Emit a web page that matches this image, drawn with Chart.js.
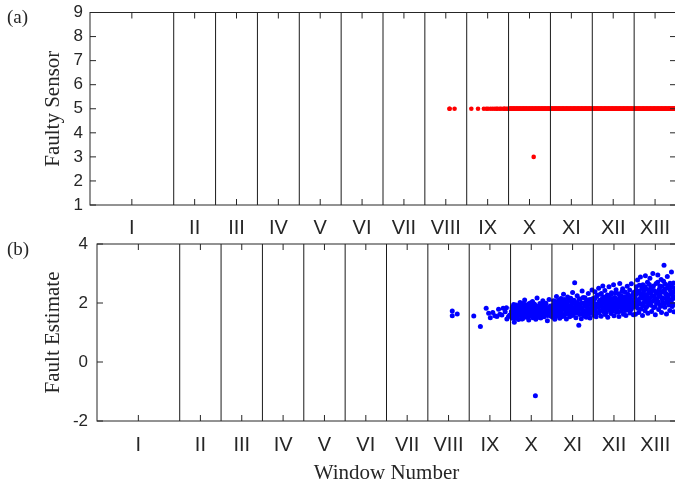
<!DOCTYPE html>
<html>
<head>
<meta charset="utf-8">
<script src="https://cdn.jsdelivr.net/npm/chart.js@4.4.1/dist/chart.umd.min.js"></script>
<style>
  html, body { margin: 0; padding: 0; background: #fff; overflow: hidden; width: 675px; height: 486px; }
  .panel { position: absolute; left: 0; }
  .tag { position: absolute; left: 7px; font: 19px "Liberation Serif", serif; color: #262626; line-height: 1; }
</style>
</head>
<body>
<canvas id="sensorChart" class="panel" width="680" height="240" style="top:0"></canvas>
<canvas id="estimateChart" class="panel" width="680" height="258" style="top:228px"></canvas>
<div class="tag" style="top:7px">(a)</div>
<div class="tag" style="top:239px">(b)</div>
<script>
// window layout: window I spans two units, the rest one unit each
const windowLabels = ['I', 'II', 'III', 'IV', 'V', 'VI', 'VII', 'VIII', 'IX', 'X', 'XI', 'XII', 'XIII'];
const windowCentres = [1, 2.5, 3.5, 4.5, 5.5, 6.5, 7.5, 8.5, 9.5, 10.5, 11.5, 12.5, 13.5];
const windowEdges = [2, 3, 4, 5, 6, 7, 8, 9, 10, 11, 12, 13];

// fault estimates per window, [sample position, estimate]
const estimateVIII = [[8.59, 1.73], [8.59, 1.57], [8.71, 1.63]];
const estimateIX = [
  [9.11, 1.56], [9.27, 1.20], [9.41, 1.82], [9.47, 1.65], [9.51, 1.50], [9.57, 1.68], [9.62, 1.57],
  [9.67, 1.54], [9.71, 1.79], [9.74, 1.62], [9.79, 1.59], [9.82, 1.82], [9.87, 1.70], [9.90, 1.84],
  [9.91, 1.46], [9.95, 1.54], [9.98, 1.59]
];
const estimateX = [
  [10.02, 1.71], [10.04, 1.48], [10.06, 1.88], [10.08, 1.62], [10.09, 1.35], [10.11, 1.77], [10.13, 1.93],
  [10.14, 1.55], [10.16, 1.68], [10.18, 1.82], [10.19, 1.44], [10.21, 1.74], [10.23, 2.02], [10.24, 1.58],
  [10.26, 1.66], [10.28, 1.90], [10.29, 1.47], [10.31, 1.79], [10.33, 1.61], [10.34, 2.10], [10.36, 1.70],
  [10.38, 1.52], [10.39, 1.85], [10.41, 1.64], [10.43, 1.97], [10.44, 1.42], [10.46, 1.75], [10.48, 1.58],
  [10.49, 1.88], [10.51, 1.67], [10.53, 2.05], [10.54, 1.50], [10.56, 1.80], [10.58, 1.63], [10.59, 1.92],
  [10.61, 1.45], [10.63, 1.73], [10.64, 2.17], [10.66, 1.56], [10.68, 1.84], [10.69, 1.68], [10.71, 1.98],
  [10.73, 1.49], [10.74, 1.77], [10.76, 1.60], [10.78, 2.08], [10.79, 1.87], [10.81, 1.53], [10.83, 1.72],
  [10.84, 1.95], [10.86, 1.62], [10.88, 1.83], [10.89, 1.40], [10.91, 1.76], [10.93, 2.12], [10.94, 1.66],
  [10.96, 1.90], [10.98, 1.55], [10.99, 1.80],
  [10.05, 1.77], [10.12, 1.60], [10.20, 1.86], [10.27, 1.54], [10.35, 1.83], [10.42, 1.69], [10.50, 1.95],
  [10.57, 1.51], [10.65, 1.78], [10.72, 1.64], [10.80, 1.96], [10.87, 1.70], [10.95, 1.59],
  [10.015, 1.60], [10.035, 1.83], [10.055, 1.52], [10.075, 1.95], [10.095, 1.66], [10.115, 1.49], [10.135, 1.73],
  [10.155, 1.87], [10.175, 1.57], [10.195, 1.71], [10.215, 1.92], [10.235, 1.63], [10.255, 1.80], [10.275, 1.46],
  [10.295, 1.68], [10.315, 1.99], [10.335, 1.75], [10.355, 1.57], [10.375, 1.90], [10.395, 1.72], [10.415, 1.53],
  [10.435, 1.81], [10.455, 1.62], [10.475, 2.00], [10.495, 1.74], [10.515, 1.55], [10.535, 1.86], [10.555, 1.69],
  [10.575, 1.97], [10.595, 1.76], [10.615, 1.59], [10.635, 1.88], [10.655, 1.70], [10.675, 1.52], [10.695, 1.91],
  [10.715, 1.74], [10.735, 1.63], [10.755, 1.85], [10.775, 1.71], [10.795, 1.56], [10.815, 1.89], [10.835, 1.65],
  [10.855, 1.99], [10.875, 1.77], [10.895, 1.58], [10.915, 1.85], [10.935, 1.68], [10.955, 1.82], [10.975, 1.72],
  [10.995, 1.64]
];
const estimateXI = [
  [11.01, 1.83], [11.02, 1.52], [11.04, 2.08], [11.05, 1.70], [11.07, 1.45], [11.08, 1.95], [11.10, 1.62],
  [11.11, 2.22], [11.13, 1.78], [11.14, 1.56], [11.16, 2.01], [11.17, 1.87], [11.19, 1.48], [11.20, 1.73],
  [11.22, 2.15], [11.23, 1.65], [11.25, 1.92], [11.26, 1.54], [11.28, 2.30], [11.29, 1.80], [11.31, 1.60],
  [11.32, 2.05], [11.34, 1.72], [11.35, 1.46], [11.37, 1.98], [11.38, 2.20], [11.40, 1.67], [11.41, 1.85],
  [11.43, 1.53], [11.44, 2.10], [11.46, 1.76], [11.47, 1.94], [11.49, 1.58], [11.50, 2.36], [11.52, 1.82],
  [11.53, 1.66], [11.55, 2.69], [11.56, 2.02], [11.58, 1.50], [11.59, 1.88], [11.61, 2.25], [11.62, 1.71],
  [11.64, 1.97], [11.65, 1.25], [11.67, 1.61], [11.68, 2.13], [11.70, 1.84], [11.71, 1.47], [11.73, 2.41],
  [11.74, 1.75], [11.76, 2.00], [11.77, 1.57], [11.79, 1.90], [11.80, 2.18], [11.82, 1.68], [11.83, 1.52],
  [11.85, 2.07], [11.86, 1.79], [11.88, 2.32], [11.89, 1.63], [11.91, 1.95], [11.92, 1.49], [11.94, 2.12],
  [11.95, 1.74], [11.97, 2.44], [11.98, 1.86],
  [11.03, 1.76], [11.12, 1.90], [11.21, 1.59], [11.30, 1.93], [11.39, 1.77], [11.48, 2.03], [11.57, 1.73],
  [11.66, 1.81], [11.75, 1.64], [11.84, 1.96], [11.93, 1.69],
  [11.015, 1.68], [11.035, 1.94], [11.055, 1.60], [11.075, 1.82], [11.095, 2.05], [11.115, 1.71], [11.135, 1.97],
  [11.155, 1.63], [11.175, 2.10], [11.195, 1.85], [11.215, 1.69], [11.235, 2.03], [11.255, 1.78], [11.275, 1.58],
  [11.295, 2.12], [11.315, 1.83], [11.335, 1.66], [11.355, 1.95], [11.375, 1.74], [11.395, 2.08], [11.415, 1.62],
  [11.435, 1.89], [11.455, 2.16], [11.475, 1.71], [11.495, 1.98], [11.515, 1.61], [11.535, 2.09], [11.555, 1.80],
  [11.575, 1.92], [11.595, 1.66], [11.615, 2.02], [11.635, 1.78], [11.655, 2.14], [11.675, 1.88], [11.695, 1.64],
  [11.715, 1.99], [11.735, 1.82], [11.755, 2.19], [11.775, 1.72], [11.795, 1.95], [11.815, 1.60], [11.835, 2.06],
  [11.855, 1.86], [11.875, 1.69], [11.895, 2.11], [11.915, 1.80], [11.935, 2.01], [11.955, 1.65], [11.975, 1.93],
  [11.995, 2.15]
];
const estimateXII = [
  [12.01, 2.10], [12.02, 1.58], [12.04, 2.38], [12.05, 1.82], [12.07, 1.53], [12.08, 2.22], [12.10, 1.95],
  [12.11, 1.67], [12.13, 2.50], [12.14, 2.03], [12.16, 1.74], [12.17, 2.30], [12.19, 1.55], [12.20, 1.89],
  [12.22, 2.15], [12.23, 2.58], [12.25, 1.70], [12.26, 1.98], [12.28, 2.42], [12.29, 1.61], [12.31, 2.08],
  [12.32, 1.84], [12.34, 2.27], [12.35, 1.52], [12.37, 1.93], [12.38, 2.55], [12.40, 1.76], [12.41, 2.12],
  [12.43, 1.64], [12.44, 2.35], [12.46, 1.99], [12.47, 1.79], [12.49, 2.62], [12.50, 1.57], [12.52, 2.19],
  [12.53, 1.91], [12.55, 2.45], [12.56, 1.69], [12.58, 2.05], [12.59, 1.86], [12.61, 2.31], [12.62, 1.54],
  [12.64, 2.66], [12.65, 2.01], [12.67, 1.73], [12.68, 2.24], [12.70, 1.94], [12.71, 2.48], [12.73, 1.62],
  [12.74, 2.11], [12.76, 1.81], [12.77, 2.37], [12.79, 1.58], [12.80, 2.03], [12.82, 2.57], [12.83, 1.77],
  [12.85, 2.16], [12.86, 1.92], [12.88, 2.44], [12.89, 1.66], [12.91, 2.07], [12.92, 2.65], [12.94, 1.85],
  [12.95, 2.28], [12.97, 1.60], [12.98, 2.00],
  [12.03, 1.98], [12.12, 1.85], [12.21, 2.04], [12.30, 1.88], [12.39, 2.17], [12.48, 1.97], [12.57, 1.80],
  [12.66, 2.13], [12.75, 1.96], [12.84, 2.06], [12.93, 1.90],
  [12.015, 1.80], [12.035, 2.14], [12.055, 1.71], [12.075, 1.96], [12.095, 2.26], [12.115, 1.88], [12.135, 1.66],
  [12.155, 2.09], [12.175, 1.93], [12.195, 2.32], [12.215, 1.76], [12.235, 2.01], [12.255, 2.20], [12.275, 1.84],
  [12.295, 2.12], [12.315, 1.69], [12.335, 1.97], [12.355, 2.24], [12.375, 1.81], [12.395, 2.06], [12.415, 1.90],
  [12.435, 2.29], [12.455, 1.73], [12.475, 2.14], [12.495, 1.87], [12.515, 2.02], [12.535, 2.34], [12.555, 1.78],
  [12.575, 2.10], [12.595, 1.95], [12.615, 1.70], [12.635, 2.19], [12.655, 1.87], [12.675, 2.07], [12.695, 2.39],
  [12.715, 1.83], [12.735, 2.00], [12.755, 2.21], [12.775, 1.75], [12.795, 2.15], [12.815, 1.92], [12.835, 2.30],
  [12.855, 1.85], [12.875, 2.04], [12.895, 2.22], [12.915, 1.78], [12.935, 2.12], [12.955, 1.96], [12.975, 2.36],
  [12.995, 1.88]
];
const estimateXIII = [
  [13.01, 2.20], [13.02, 1.62], [13.04, 2.55], [13.05, 1.90], [13.07, 2.78], [13.08, 2.05], [13.10, 1.68],
  [13.11, 2.40], [13.13, 2.15], [13.14, 2.88], [13.16, 1.80], [13.17, 2.30], [13.19, 1.58], [13.20, 2.62],
  [13.22, 2.00], [13.23, 2.45], [13.25, 1.74], [13.26, 2.92], [13.28, 2.18], [13.29, 1.88], [13.31, 2.70],
  [13.32, 1.65], [13.34, 2.35], [13.35, 2.08], [13.37, 2.84], [13.38, 1.95], [13.40, 2.52], [13.41, 1.71],
  [13.43, 2.25], [13.44, 3.00], [13.46, 1.84], [13.47, 2.42], [13.49, 2.12], [13.50, 1.60], [13.52, 2.66],
  [13.53, 1.98], [13.55, 2.32], [13.56, 2.95], [13.58, 1.78], [13.59, 2.22], [13.61, 2.58], [13.62, 1.92],
  [13.64, 2.80], [13.65, 1.68], [13.67, 2.38], [13.68, 2.03], [13.70, 2.74], [13.71, 3.28], [13.73, 1.86],
  [13.74, 2.48], [13.76, 2.16], [13.77, 1.63], [13.79, 2.90], [13.80, 2.28], [13.82, 1.96], [13.83, 2.60],
  [13.85, 1.75], [13.86, 2.44], [13.88, 2.10], [13.89, 3.05], [13.91, 1.88], [13.92, 2.34], [13.94, 2.68],
  [13.95, 1.70], [13.97, 2.20], [13.98, 2.52],
  [13.03, 2.30], [13.12, 2.00], [13.21, 2.26], [13.30, 2.05], [13.39, 2.34], [13.48, 2.18], [13.57, 2.40],
  [13.66, 2.14], [13.75, 2.33], [13.84, 2.09], [13.93, 2.22],
  [13.015, 1.94], [13.035, 2.42], [13.055, 2.10], [13.075, 1.82], [13.095, 2.33], [13.115, 2.60], [13.135, 1.97],
  [13.155, 2.21], [13.175, 2.49], [13.195, 1.90], [13.215, 2.37], [13.235, 2.13], [13.255, 2.55], [13.275, 1.85],
  [13.295, 2.28], [13.315, 2.46], [13.335, 1.99], [13.355, 2.63], [13.375, 2.19], [13.395, 1.92], [13.415, 2.43],
  [13.435, 2.06], [13.455, 2.58], [13.475, 2.24], [13.495, 1.87], [13.515, 2.36], [13.535, 2.12], [13.555, 2.70],
  [13.575, 2.03], [13.595, 2.47], [13.615, 2.27], [13.635, 1.89], [13.655, 2.56], [13.675, 2.17], [13.695, 2.41],
  [13.715, 1.98], [13.735, 2.64], [13.755, 2.29], [13.775, 2.05], [13.795, 2.51], [13.815, 2.20], [13.835, 1.93],
  [13.855, 2.67], [13.875, 2.31], [13.895, 2.00], [13.915, 2.53], [13.935, 2.15], [13.955, 2.39], [13.975, 1.95],
  [13.995, 2.45]
];

// isolation result: every flagged sample points at sensor 5, except one outlier
const flaggedSensor = 5;
const outlierSample = { x: 10.6, estimate: -1.14, sensor: 3 };

const inkColor = '#262626';
const tickFont = { family: 'Liberation Sans', size: 17 };
const windowFont = { family: 'Liberation Sans', size: 20 };
const titleFont = { family: 'Liberation Serif', size: 21 };

const samples = [].concat(estimateVIII, estimateIX, estimateX, estimateXI, estimateXII, estimateXIII);
const estimatePoints = samples.map(([x, y]) => ({ x, y }))
  .concat([{ x: outlierSample.x, y: outlierSample.estimate }]);
const sensorPoints = samples.map(([x]) => ({ x, y: flaggedSensor }))
  .concat([{ x: outlierSample.x, y: outlierSample.sensor }]);

// axes box, inward ticks on all four sides and the window separators
const framePlugin = {
  id: 'frame',
  afterDatasetsDraw(chart) {
    const { ctx, chartArea: a, scales: { x, y } } = chart;
    const len = 6;
    ctx.save();
    ctx.strokeStyle = '#1a1a1a';
    ctx.lineWidth = 1;
    ctx.beginPath();
    windowEdges.forEach(v => {
      const px = x.getPixelForValue(v);
      ctx.moveTo(px, a.top);
      ctx.lineTo(px, a.bottom);
    });
    ctx.stroke();

    ctx.strokeStyle = inkColor;
    ctx.beginPath();
    windowCentres.forEach(v => {
      const px = x.getPixelForValue(v);
      ctx.moveTo(px, a.bottom);
      ctx.lineTo(px, a.bottom - len);
      ctx.moveTo(px, a.top);
      ctx.lineTo(px, a.top + len);
    });
    y.ticks.forEach(t => {
      const py = y.getPixelForValue(t.value);
      ctx.moveTo(a.left, py);
      ctx.lineTo(a.left + len, py);
      ctx.moveTo(a.right, py);
      ctx.lineTo(a.right - len, py);
    });
    ctx.stroke();
    ctx.strokeRect(a.left, a.top, a.right - a.left, a.bottom - a.top);
    ctx.restore();
  }
};

function windowAxis(labelPad, axisHeight, title) {
  return {
    type: 'linear',
    min: 0,
    max: 14,
    grid: { display: false, drawTicks: false },
    border: { display: false },
    afterBuildTicks: s => { s.ticks = windowCentres.map(v => ({ value: v })); },
    afterFit: s => { s.height = axisHeight; s.paddingLeft = 0; s.paddingRight = 0; },
    ticks: {
      autoSkip: false,
      maxRotation: 0,
      padding: labelPad,
      color: inkColor,
      font: windowFont,
      callback: (v, i) => windowLabels[i]
    },
    title: title ? { display: true, text: title, color: inkColor, font: titleFont, padding: { top: 0, bottom: 0 } } : { display: false }
  };
}

function valueAxis(min, max, step, width, labelPad, title) {
  return {
    min: min,
    max: max,
    grid: { display: false, drawTicks: false },
    border: { display: false },
    afterFit: s => { s.width = width; s.paddingTop = 0; s.paddingBottom = 0; },
    ticks: { stepSize: step, padding: labelPad, color: inkColor, font: tickFont },
    title: { display: true, text: title, color: inkColor, font: titleFont, padding: { top: 41, bottom: 0 } }
  };
}

const commonOptions = {
  responsive: false,
  animation: false,
  events: [],
  plugins: { legend: { display: false }, tooltip: { enabled: false } }
};

new Chart(document.getElementById('sensorChart'), {
  type: 'scatter',
  data: {
    datasets: [{
      data: sensorPoints,
      backgroundColor: '#ff0000',
      borderWidth: 0,
      pointRadius: 2.3
    }]
  },
  options: Object.assign({}, commonOptions, {
    layout: { padding: { left: 0, top: 12.5, right: 3.4, bottom: 0 } },
    scales: {
      x: windowAxis(11, 35, null),
      y: valueAxis(1, 9, 1, 90, 7, 'Faulty Sensor')
    }
  }),
  plugins: [framePlugin]
});

new Chart(document.getElementById('estimateChart'), {
  type: 'scatter',
  data: {
    datasets: [{
      data: estimatePoints,
      backgroundColor: '#0000ff',
      borderWidth: 0,
      pointRadius: 2.5
    }]
  },
  options: Object.assign({}, commonOptions, {
    layout: { padding: { left: 0, top: 16, right: 2.2, bottom: 0 } },
    scales: {
      x: windowAxis(12, 65, 'Window Number'),
      y: valueAxis(-2, 4, 2, 97, 9, 'Fault Estimate')
    }
  }),
  plugins: [framePlugin]
});
</script>
</body>
</html>
